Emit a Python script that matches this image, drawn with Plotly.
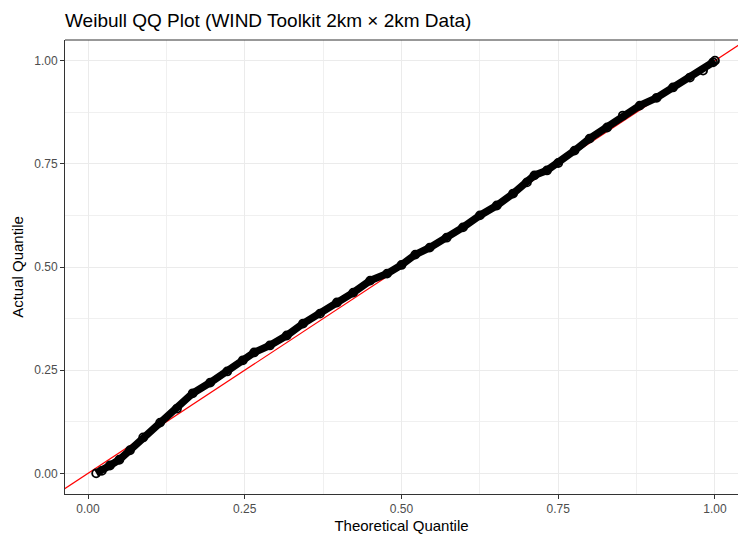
import plotly.graph_objects as go

# Theoretical vs. actual (normalised) quantiles of the wind-speed sample
theoretical = [0.013, 0.022, 0.035, 0.050, 0.067, 0.088, 0.115, 0.142, 0.167, 0.195,
               0.222, 0.247, 0.265, 0.290, 0.317, 0.343, 0.370, 0.397, 0.423, 0.450,
               0.477, 0.500, 0.522, 0.545, 0.572, 0.598, 0.625, 0.652, 0.678, 0.700,
               0.712, 0.732, 0.750, 0.776, 0.800, 0.828, 0.853, 0.880, 0.907, 0.933,
               0.960, 0.981, 0.997, 1.000]
actual = [0.000, 0.006, 0.019, 0.033, 0.056, 0.087, 0.123, 0.157, 0.194, 0.220,
          0.247, 0.274, 0.293, 0.310, 0.334, 0.363, 0.387, 0.414, 0.438, 0.467,
          0.484, 0.505, 0.530, 0.547, 0.571, 0.596, 0.625, 0.649, 0.678, 0.705,
          0.722, 0.734, 0.752, 0.782, 0.811, 0.838, 0.867, 0.891, 0.910, 0.935,
          0.959, 0.976, 0.996, 1.000]

# Reference line y = intercept + slope * x
ref_intercept = 0.0
ref_slope = 1.0

tick_vals = [0.0, 0.25, 0.5, 0.75, 1.0]
tick_text = ["0.00", "0.25", "0.50", "0.75", "1.00"]

FONT = "Liberation Sans, Arial, Helvetica, sans-serif"
X_RANGE = [-0.0367, 1.0367]
Y_RANGE = [-0.05, 1.05]

fig = go.Figure()

# reference line underneath the points
ref_x = [-0.1, 1.1]
fig.add_trace(go.Scatter(
    x=ref_x, y=[ref_intercept + ref_slope * v for v in ref_x],
    mode="lines", line=dict(color="#FF0000", width=1.2),
    hoverinfo="skip", showlegend=False,
))

fig.add_trace(go.Scatter(
    x=theoretical, y=actual,
    mode="lines+markers",
    line=dict(color="black", width=7.5),
    marker=dict(symbol="circle-open", size=8, color="black", line=dict(width=1.8)),
    hoverinfo="x+y", showlegend=False,
))

axis_common = dict(
    tickmode="array", tickvals=tick_vals, ticktext=tick_text,
    showgrid=True, gridcolor="#EBEBEB", gridwidth=1.1,
    minor=dict(dtick=0.125, tick0=0, showgrid=True, gridcolor="#F0F0F0", gridwidth=0.7, ticks=""),
    zeroline=False, ticks="outside", ticklen=4, tickwidth=1, tickcolor="#333333",
    tickfont=dict(family=FONT, size=12, color="#4D4D4D"),
    showline=True, linecolor="#333333", linewidth=1,
)

fig.update_xaxes(range=X_RANGE, title=dict(text="Theoretical Quantile",
                 font=dict(family=FONT, size=15, color="black"), standoff=6), **axis_common)
fig.update_yaxes(range=Y_RANGE, title=dict(text="Actual Quantile",
                 font=dict(family=FONT, size=15, color="black"), standoff=6), **axis_common)

# top edge of the panel border
fig.add_shape(type="line", xref="paper", yref="paper", x0=0, x1=1, y0=1, y1=1,
              line=dict(color="#333333", width=1))

fig.update_layout(
    width=738, height=534,
    margin=dict(l=65, r=0, t=40, b=40),
    paper_bgcolor="white", plot_bgcolor="white",
    title=dict(text="Weibull QQ Plot (WIND Toolkit 2km × 2km Data)",
               font=dict(family=FONT, size=19, color="black"),
               x=65 / 738, xanchor="left", y=1 - 20 / 534, yanchor="middle"),
)

fig.write_html("out.html")
